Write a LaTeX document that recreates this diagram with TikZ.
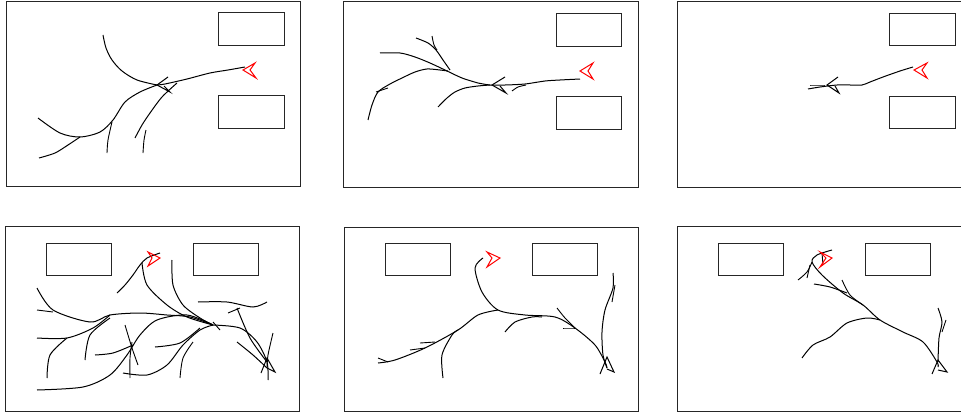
\documentclass[tikz,border=0pt]{standalone}
\begin{document}
\begin{tikzpicture}[x=1pt,y=-1pt,
  frame/.style={draw=black!85,line width=1pt},
  obst/.style={draw=black!85,line width=1pt},
  traj/.style={draw=black,line width=1pt},
  plain/.style={draw=black,line width=0.9pt},
  goal/.style={draw=black,line width=1pt,line join=miter},
  robot/.style={draw=red,line width=1pt,line join=miter}]
\useasboundingbox (0,0) rectangle (961,412);
% ---------- panel 1 ----------
\draw[frame] (6,2) rectangle (300,186);
\draw[obst] (218,13) rectangle (284,46);
\draw[obst] (218,95) rectangle (284,128);
\draw[traj] plot[smooth] coordinates {(245,67) (228,70) (210,73) (187,79) (165,84) (157,85)};
\draw[traj] plot[smooth] coordinates {(103,35) (106,48) (112,60) (122,71) (137,80) (157,85)};
\draw[traj] plot[smooth] coordinates {(157,85) (140,92) (125,102) (113,120) (100,132) (80,137) (60,133) (38,118)};
\draw[traj] plot[smooth] coordinates {(39,158) (55,153) (68,145) (80,137)};
\draw[plain] plot[smooth] coordinates {(107,153) (108,140) (112,122)};
\draw[traj] plot[smooth] coordinates {(135,138) (142,125) (150,113) (162,97) (177,83)};
\draw[plain] plot[smooth] coordinates {(143,153) (144,140) (146,130)};
\draw[goal] (168,77) -- (157,85) -- (170,92) -- (164,86);
\draw[robot] (255,63) -- (243,70) -- (256,78) -- (250,70) -- cycle;
% ---------- panel 2 ----------
\draw[frame] (343,2) rectangle (638,187);
\draw[obst] (556,14) rectangle (621,47);
\draw[obst] (556,96) rectangle (621,129);
\draw[traj] plot[smooth] coordinates {(580,79) (560,80) (545,81) (525,84) (505,85) (490,85) (478,83)};
\draw[traj] plot[smooth] coordinates {(380,53) (400,53) (415,57) (430,63) (445,70) (462,78) (478,83)};
\draw[traj] plot[smooth] coordinates {(416,38) (428,43) (436,50) (443,60) (450,70)};
\draw[plain] plot[smooth] coordinates {(432,36) (434,45) (437,50)};
\draw[traj] plot[smooth] coordinates {(368,120) (372,105) (378,92) (390,84) (402,78) (415,72) (427,69) (440,70) (448,71)};
\draw[plain] plot[smooth] coordinates {(376,92) (388,88)};
\draw[traj] plot[smooth] coordinates {(438,107) (447,98) (455,92) (465,88) (478,86) (490,85)};
\draw[plain] plot[smooth] coordinates {(512,91) (518,87) (526,85)};
\draw[goal] (505,77) -- (492,85) -- (506,93) -- (500,86);
\draw[robot] (593,63) -- (580,71) -- (593,79) -- (588,71) -- cycle;
% ---------- panel 3 ----------
\draw[frame] (677,2) rectangle (975,187);
\draw[obst] (889,14) rectangle (955,46);
\draw[obst] (889,96) rectangle (955,128);
\draw[traj] plot[smooth] coordinates {(913,67) (900,71) (883,77) (870,82) (862,85) (850,85) (837,85) (820,87) (808,89)};
\draw[plain] plot[smooth] coordinates {(810,85) (825,85)};
\draw[goal] (838,77) -- (827,85) -- (839,93) -- (835,86);
\draw[robot] (927,63) -- (914,70) -- (927,78) -- (922,70) -- cycle;
% ---------- panel 4 ----------
\draw[frame] (5,226) rectangle (299,411);
\draw[obst] (46,243) rectangle (111,275);
\draw[obst] (193,243) rectangle (258,275);
\draw[traj] plot[smooth] coordinates {(117,293) (125,285) (133,275) (140,265) (147,258) (160,253)};
\draw[traj] plot[smooth] coordinates {(142,263) (147,285) (167,305) (187,317) (213,325)};
\draw[traj] plot[smooth] coordinates {(172,260) (173,285) (183,305) (200,318) (213,325)};
\draw[traj] plot[smooth] coordinates {(213,325) (240,328) (257,342) (267,362) (268,380)};
\draw[traj] plot[smooth] coordinates {(37,288) (53,310) (90,322) (110,315) (140,313) (167,315) (190,317) (213,325)};
\draw[plain] plot[smooth] coordinates {(37,310) (53,312)};
\draw[traj] plot[smooth] coordinates {(37,338) (67,338) (93,328) (110,315)};
\draw[traj] plot[smooth] coordinates {(47,378) (50,355) (67,338)};
\draw[traj] plot[smooth] coordinates {(85,360) (90,335) (110,318)};
\draw[traj] plot[smooth] coordinates {(37,390) (83,387) (110,375) (127,355) (140,335) (157,320) (187,315) (213,325)};
\draw[traj] plot[smooth] coordinates {(95,355) (113,353) (133,345)};
\draw[plain] plot[smooth] coordinates {(125,325) (132,348) (138,365)};
\draw[plain] plot[smooth] coordinates {(130,378) (130,358) (132,342)};
\draw[traj] plot[smooth] coordinates {(123,373) (147,375) (167,365) (183,345) (200,330) (213,325)};
\draw[traj] plot[smooth] coordinates {(155,347) (180,343) (200,328)};
\draw[plain] plot[smooth] coordinates {(180,378) (183,358) (193,342)};
\draw[traj] plot[smooth] coordinates {(198,302) (227,302) (253,307) (267,302)};
\draw[plain] plot[smooth] coordinates {(228,313) (240,308)};
\draw[traj] plot[smooth] coordinates {(237,308) (250,338) (267,362)};
\draw[traj] plot[smooth] coordinates {(237,342) (253,355) (267,368)};
\draw[plain] plot[smooth] coordinates {(273,333) (268,355) (267,368)};
\draw[plain] plot[smooth] coordinates {(213,322) (220,330)};
\draw[goal] (261,373) -- (267,358) -- (275,372) -- (267,368);
\draw[robot] (148,252) -- (160,258) -- (148,266) -- (152,258) -- cycle;
% ---------- panel 5 ----------
\draw[frame] (344,227) rectangle (638,411);
\draw[obst] (385,243) rectangle (450,275);
\draw[obst] (532,243) rectangle (597,275);
\draw[traj] plot[smooth] coordinates {(483,258) (475,268) (482,292) (498,310) (525,315) (555,317) (575,328) (595,345) (605,362) (607,368)};
\draw[traj] plot[smooth] coordinates {(378,363) (395,360) (425,348) (458,330) (478,315) (498,310)};
\draw[traj] plot[smooth] coordinates {(443,378) (442,355) (452,335) (458,330)};
\draw[plain] plot[smooth] coordinates {(378,358) (388,362)};
\draw[plain] plot[smooth] coordinates {(420,343) (435,342)};
\draw[plain] plot[smooth] coordinates {(410,350) (425,348)};
\draw[traj] plot[smooth] coordinates {(505,332) (515,322) (532,317) (542,317)};
\draw[plain] plot[smooth] coordinates {(557,308) (565,318) (575,328)};
\draw[plain] plot[smooth] coordinates {(563,328) (575,328)};
\draw[traj] plot[smooth] coordinates {(613,273) (613,288) (605,310) (602,332) (603,355) (607,368)};
\draw[plain] plot[smooth] coordinates {(615,285) (612,302)};
\draw[goal] (600,374) -- (607,357) -- (614,372) -- (607,369);
\draw[robot] (487,252) -- (500,258) -- (487,267) -- (492,258) -- cycle;
% ---------- panel 6 ----------
\draw[frame] (677,226) rectangle (975,411);
\draw[obst] (718,243) rectangle (783,275);
\draw[obst] (865,243) rectangle (930,275);
\draw[traj] plot[smooth] coordinates {(832,250) (817,255) (812,262) (822,275) (843,293) (863,305) (880,320) (903,332) (923,342) (937,362) (938,367)};
\draw[plain] plot[smooth] coordinates {(798,280) (807,272) (812,262)};
\draw[plain] plot[smooth] coordinates {(807,278) (810,265)};
\draw[traj] plot[smooth] coordinates {(814,284) (830,287) (847,293)};
\draw[plain] plot[smooth] coordinates {(842,280) (850,295) (863,305)};
\draw[traj] plot[smooth] coordinates {(802,358) (813,345) (830,337) (847,323) (867,318) (880,320)};
\draw[traj] plot[smooth] coordinates {(938,308) (942,322) (939,338) (938,362)};
\draw[plain] plot[smooth] coordinates {(946,320) (942,332)};
\draw[plain] plot[smooth] coordinates {(822,253) (823,265)};
\draw[goal] (932,374) -- (938,360) -- (947,372) -- (938,370);
\draw[robot] (820,252) -- (832,258) -- (820,267) -- (826,258) -- cycle;
\end{tikzpicture}
\end{document}
